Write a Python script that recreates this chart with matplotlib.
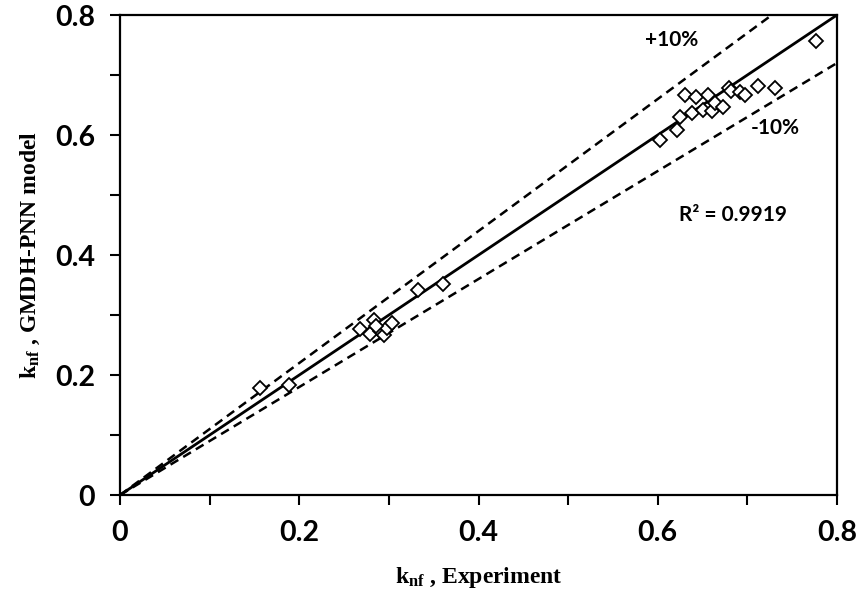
import matplotlib
matplotlib.use("Agg")
import matplotlib.pyplot as plt
import numpy as np

plt.rcParams['mathtext.fontset'] = 'custom'
plt.rcParams['mathtext.rm'] = 'Liberation Serif:bold'
plt.rcParams['mathtext.bf'] = 'Liberation Serif:bold'
plt.rcParams['mathtext.it'] = 'Liberation Serif:bold'

# Data: experiment vs model
exp_vals = [0.156, 0.188,
            0.268, 0.283, 0.279, 0.290, 0.294, 0.298, 0.303, 0.286,
            0.333, 0.360,
            0.602, 0.621, 0.625, 0.630, 0.638, 0.643, 0.651, 0.656, 0.660,
            0.664, 0.673, 0.679, 0.682, 0.692, 0.697, 0.712, 0.731, 0.777]
model_vals = [0.178, 0.183,
              0.277, 0.292, 0.268, 0.273, 0.266, 0.278, 0.287, 0.282,
              0.342, 0.352,
              0.592, 0.609, 0.630, 0.667, 0.636, 0.664, 0.642, 0.667, 0.640,
              0.653, 0.647, 0.678, 0.674, 0.672, 0.667, 0.682, 0.679, 0.757]

line_x = [0.0, 0.8]
upper_factor = 1.1
lower_factor = 0.9
tick_vals = [0, 0.1, 0.2, 0.3, 0.4, 0.5, 0.6, 0.7, 0.8]
tick_labels = ["0", "", "0.2", "", "0.4", "", "0.6", "", "0.8"]

fig = plt.figure(figsize=(8.61, 5.98), dpi=100)
ax = fig.add_axes([0.1394, 0.1722, 0.8327, 0.8027])

lx = np.array(line_x)
ax.plot(lx, lx, color="black", lw=2.0, solid_capstyle="butt")
ax.plot(lx, lx * upper_factor, color="black", lw=1.8, ls=(0, (3.6, 2.3)))
ax.plot(lx, lx * lower_factor, color="black", lw=1.8, ls=(0, (3.6, 2.3)))

ax.plot(exp_vals, model_vals, ls="none", marker="D", ms=7.4,
        mfc="white", mec="black", mew=1.3, zorder=3)

ax.set_xlim(0, 0.8)
ax.set_ylim(0, 0.8)
ax.set_xticks(tick_vals)
ax.set_yticks(tick_vals)
ax.set_xticklabels(tick_labels)
ax.set_yticklabels(tick_labels)

for lab in ax.get_xticklabels() + ax.get_yticklabels():
    lab.set_fontfamily("Lato")
    lab.set_fontweight("bold")
    lab.set_fontsize(20.5)

ax.tick_params(direction="out", length=7, width=1.5, pad=11)
for s in ax.spines.values():
    s.set_linewidth(1.6)

serif = dict(family="Liberation Serif", weight="bold", size=17)
ax.set_xlabel(r"k$_{\mathrm{nf}}$ , Experiment", fontdict=serif, labelpad=14)
ax.set_ylabel(r"k$_{\mathrm{nf}}$ , GMDH-PNN model", fontdict=serif, labelpad=9)

txt = dict(family="Lato", weight="bold", size=15)
ax.text(0.616, 0.758, "+10%", ha="center", va="center", fontdict=txt)
ax.text(0.731, 0.612, "-10%", ha="center", va="center", fontdict=txt)
ax.text(0.684, 0.467, "R² = 0.9919", ha="center", va="center", fontdict=txt)

fig.savefig("out.png", dpi=100)
